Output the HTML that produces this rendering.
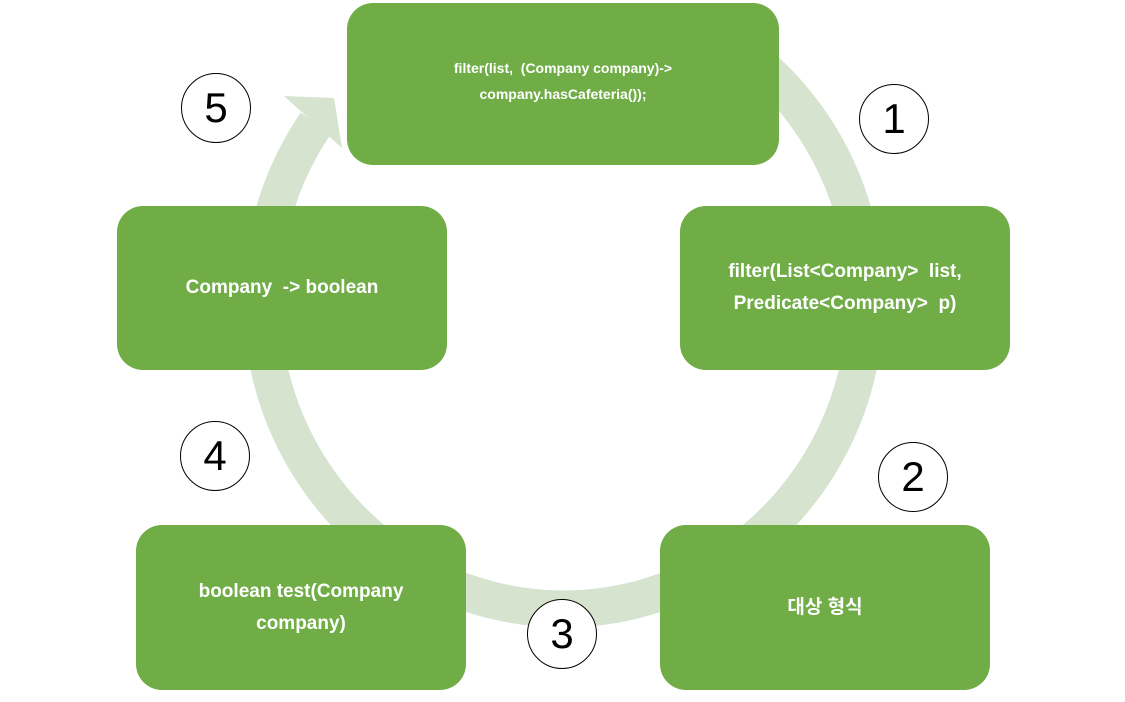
<!DOCTYPE html>
<html><head><meta charset="utf-8"><style>
html,body{margin:0;padding:0;background:#fff;}
body{width:1125px;height:702px;position:relative;overflow:hidden;font-family:"Liberation Sans","Noto Sans CJK KR",sans-serif;}
.b{position:absolute;background:#70ad47;border-radius:26px;color:#fff;font-weight:bold;display:flex;align-items:center;justify-content:center;text-align:center;font-size:19px;line-height:32px;}
.c{position:absolute;width:70px;height:70px;border:1.5px solid #000;border-radius:50%;background:#fff;font-size:42px;font-weight:300;display:flex;align-items:center;justify-content:center;color:#000;box-sizing:border-box;}
svg{position:absolute;left:0;top:0;}
</style></head><body>
<svg width="1125" height="702">
<path d="M714,32 A302,309 0 1 1 316,123" fill="none" stroke="#d5e3cf" stroke-width="37"/>
<polygon points="284,96 334,98 342,148" fill="#d5e3cf"/>
</svg>
<div class="b" style="left:347px;top:3px;width:432px;height:162px;font-size:14px;line-height:26px;padding-bottom:6px;box-sizing:border-box;">filter(list,&nbsp; (Company company)-&gt;<br>company.hasCafeteria());</div>
<div class="b" style="left:680px;top:206px;width:330px;height:164px;">filter(List&lt;Company&gt;&nbsp; list,<br>Predicate&lt;Company&gt;&nbsp; p)</div>
<div class="b" style="left:660px;top:525px;width:330px;height:165px;">대상 형식</div>
<div class="b" style="left:136px;top:525px;width:330px;height:165px;">boolean test(Company<br>company)</div>
<div class="b" style="left:117px;top:206px;width:330px;height:164px;">Company&nbsp; -&gt; boolean</div>
<div class="c" style="left:181px;top:73px;">5</div>
<div class="c" style="left:859px;top:84px;">1</div>
<div class="c" style="left:878px;top:442px;">2</div>
<div class="c" style="left:180px;top:421px;">4</div>
<div class="c" style="left:527px;top:599px;">3</div>
</body></html>
